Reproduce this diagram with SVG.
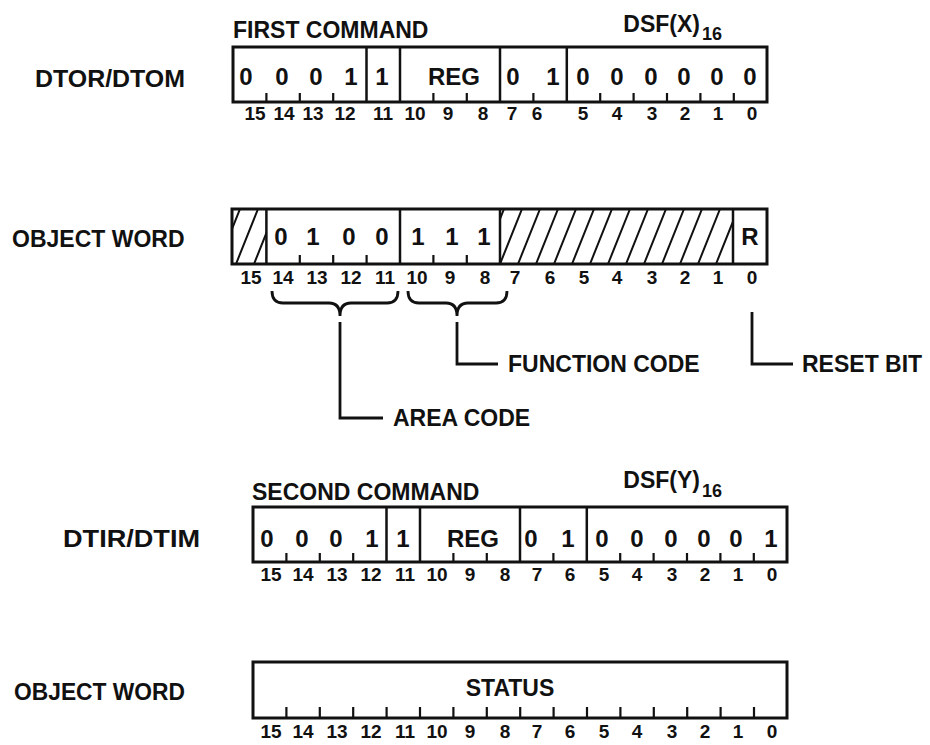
<svg xmlns="http://www.w3.org/2000/svg" width="930" height="745" viewBox="0 0 930 745">
<style>
text{font-family:"Liberation Sans",Arial,sans-serif;font-weight:bold;fill:#111}
.lbl{font-size:23px}
.val{font-size:24px;text-anchor:middle}
.bit{font-size:19px;text-anchor:middle}
.sub{font-size:18px}
.box{fill:#fff;stroke:#111;stroke-width:3}
.div{stroke:#111;stroke-width:2.5}
.tick{stroke:#111;stroke-width:2.2}
.hatch{stroke:#111;stroke-width:2}
.conn{fill:none;stroke:#111;stroke-width:2.8}
</style>
<defs>
<clipPath id="hc1"><rect x="232" y="209" width="34.4" height="55"/></clipPath>
<clipPath id="hc2"><rect x="500" y="209" width="233" height="55"/></clipPath>
</defs>

<g id="row1">
<text class="lbl" x="35" y="87" textLength="150" lengthAdjust="spacingAndGlyphs">DTOR/DTOM</text>
<text class="lbl" x="233" y="38">FIRST COMMAND</text>
<text class="lbl" x="700" y="32" text-anchor="end" font-size="24">DSF(X)</text>
<text class="sub" x="702" y="40">16</text>
<rect class="box" x="233" y="47" width="534" height="55"/>
<path class="div" d="M366.5,47V102M400,47V102M500,47V102M566.8,47V102"/>
<path class="tick" d="M266.4,93V102M299.8,93V102M333.2,93V102M433.4,93V102M466.8,93V102M533.4,93V102M600.2,93V102M633.6,93V102M667,93V102M700.4,93V102M733.8,93V102"/>
<text class="val" y="85"><tspan x="246">0</tspan><tspan x="282">0</tspan><tspan x="316">0</tspan><tspan x="351">1</tspan><tspan x="382">1</tspan><tspan x="454">REG</tspan><tspan x="513">0</tspan><tspan x="553">1</tspan><tspan x="583">0</tspan><tspan x="617">0</tspan><tspan x="651">0</tspan><tspan x="684">0</tspan><tspan x="717">0</tspan><tspan x="750">0</tspan></text>
<text class="bit" y="120"><tspan x="255">15</tspan><tspan x="284">14</tspan><tspan x="313">13</tspan><tspan x="345">12</tspan><tspan x="383">11</tspan><tspan x="415">10</tspan><tspan x="448">9</tspan><tspan x="483">8</tspan><tspan x="512">7</tspan><tspan x="537">6</tspan><tspan x="583">5</tspan><tspan x="617">4</tspan><tspan x="652">3</tspan><tspan x="685">2</tspan><tspan x="718">1</tspan><tspan x="752">0</tspan></text>
</g>

<g id="row2">
<text class="lbl" x="12" y="247">OBJECT WORD</text>
<rect class="box" x="232" y="209" width="535" height="55"/>
<g class="hatch" clip-path="url(#hc1)">
<path d="M200,264L222,209M218,264L240,209M236,264L258,209M254,264L276,209"/>
</g>
<g class="hatch" clip-path="url(#hc2)">
<path d="M482,264L504,209M500,264L522,209M518,264L540,209M536,264L558,209M554,264L576,209M572,264L594,209M590,264L612,209M608,264L630,209M626,264L648,209M644,264L666,209M662,264L684,209M680,264L702,209M698,264L720,209M716,264L738,209"/>
</g>
<path class="div" d="M266.4,209V264M400,209V264M500,209V264M733,209V264"/>
<path class="tick" d="M299.8,255V264M333.2,255V264M366.6,255V264M433.4,255V264M466.8,255V264"/>
<text class="val" y="245"><tspan x="281">0</tspan><tspan x="313">1</tspan><tspan x="349">0</tspan><tspan x="382">0</tspan><tspan x="418">1</tspan><tspan x="452">1</tspan><tspan x="484">1</tspan><tspan x="750">R</tspan></text>
<text class="bit" y="284"><tspan x="251">15</tspan><tspan x="283">14</tspan><tspan x="317">13</tspan><tspan x="351">12</tspan><tspan x="385">11</tspan><tspan x="417">10</tspan><tspan x="450">9</tspan><tspan x="485">8</tspan><tspan x="515">7</tspan><tspan x="550">6</tspan><tspan x="584">5</tspan><tspan x="617">4</tspan><tspan x="652">3</tspan><tspan x="685">2</tspan><tspan x="718">1</tspan><tspan x="752">0</tspan></text>
</g>

<g id="area-code">
<text class="lbl" x="393" y="426">AREA CODE</text>
</g>
<g id="function-code">
<text class="lbl" x="508" y="372">FUNCTION CODE</text>
</g>
<g id="reset-bit">
<text class="lbl" x="802" y="372">RESET BIT</text>
</g>

<g id="connectors">
<path class="conn" d="M272,291Q272,303 283,303L329,303Q340,303 340,316Q340,303 351,303L387,303Q398,303 398,291"/>
<path class="conn" d="M408,291Q408,303 419,303L446,303Q457,303 457,316Q457,303 468,303L496,303Q507,303 507,291"/>
<path class="conn" d="M340,322V418H383"/>
<path class="conn" d="M457,322V364H498"/>
<path class="conn" d="M752,312V364H793"/>
</g>

<g id="row3">
<text class="lbl" x="63" y="547" textLength="137" lengthAdjust="spacingAndGlyphs">DTIR/DTIM</text>
<text class="lbl" x="252" y="500">SECOND COMMAND</text>
<text class="lbl" x="700" y="488" text-anchor="end" font-size="24">DSF(Y)</text>
<text class="sub" x="702" y="497">16</text>
<rect class="box" x="253" y="507" width="534" height="55"/>
<path class="div" d="M386.5,507V562M420,507V562M520,507V562M586.8,507V562"/>
<path class="tick" d="M286.4,553V562M319.8,553V562M353.2,553V562M453.4,553V562M486.8,553V562M553.4,553V562M620.2,553V562M653.6,553V562M687,553V562M720.4,553V562M753.8,553V562"/>
<text class="val" y="547"><tspan x="267">0</tspan><tspan x="302">0</tspan><tspan x="336">0</tspan><tspan x="372">1</tspan><tspan x="403">1</tspan><tspan x="473">REG</tspan><tspan x="531">0</tspan><tspan x="568">1</tspan><tspan x="602">0</tspan><tspan x="637">0</tspan><tspan x="671">0</tspan><tspan x="704">0</tspan><tspan x="736">0</tspan><tspan x="771">1</tspan></text>
<text class="bit" y="581"><tspan x="271">15</tspan><tspan x="303">14</tspan><tspan x="337">13</tspan><tspan x="371">12</tspan><tspan x="405">11</tspan><tspan x="437">10</tspan><tspan x="470">9</tspan><tspan x="505">8</tspan><tspan x="537">7</tspan><tspan x="570">6</tspan><tspan x="604">5</tspan><tspan x="637">4</tspan><tspan x="672">3</tspan><tspan x="705">2</tspan><tspan x="738">1</tspan><tspan x="772">0</tspan></text>
</g>

<g id="row4">
<text class="lbl" x="14" y="700" textLength="171" lengthAdjust="spacingAndGlyphs">OBJECT WORD</text>
<rect class="box" x="253" y="662" width="534" height="56"/>
<path class="tick" d="M286.4,707V718M319.8,707V718M353.2,707V718M386.6,707V718M420,707V718M453.4,707V718M486.8,707V718M520.2,707V718M553.6,707V718M587,707V718M620.4,707V718M653.8,707V718M687.2,707V718M720.6,707V718M754,707V718"/>
<text class="lbl" x="510" y="696" text-anchor="middle">STATUS</text>
<text class="bit" y="738"><tspan x="271">15</tspan><tspan x="303">14</tspan><tspan x="337">13</tspan><tspan x="371">12</tspan><tspan x="405">11</tspan><tspan x="437">10</tspan><tspan x="470">9</tspan><tspan x="505">8</tspan><tspan x="537">7</tspan><tspan x="570">6</tspan><tspan x="604">5</tspan><tspan x="637">4</tspan><tspan x="672">3</tspan><tspan x="705">2</tspan><tspan x="738">1</tspan><tspan x="772">0</tspan></text>
</g>
</svg>
